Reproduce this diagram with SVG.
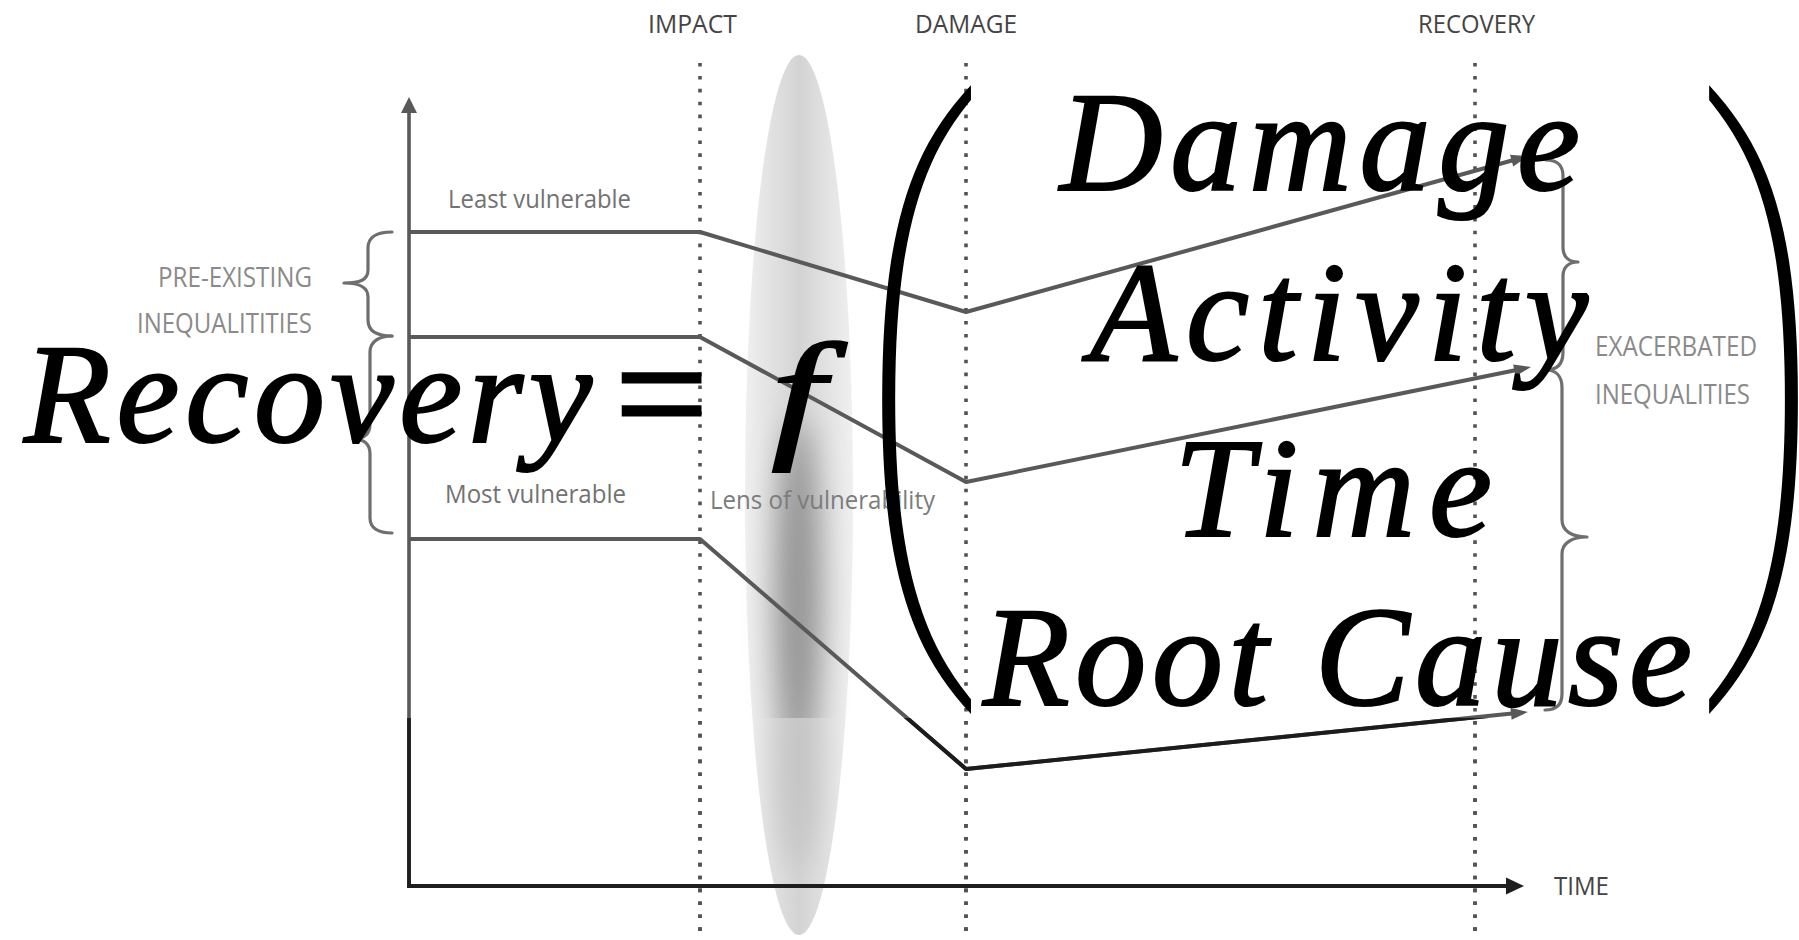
<svg xmlns="http://www.w3.org/2000/svg" width="1799" height="940" viewBox="0 0 1799 940">
<style>
.lbl{font-family:"Open Sans","Liberation Sans",sans-serif}
.hdr{font-size:25px;fill:#444}
.cap{font-size:27px;fill:#8a8a8a}
.vul{font-size:25px;fill:#727272}
.lenst{font-size:26px;fill:#7c7c7c}
.ln{fill:none;stroke:#595959;stroke-width:4;stroke-linejoin:round}
.dk{stroke:#1c1c1c}
.dot{fill:none;stroke:#535353;stroke-width:3.6;stroke-dasharray:3.6 9.3}
.brace{fill:none;stroke:#6e6e6e;stroke-width:3.2;stroke-linecap:round;stroke-linejoin:round}
.math{font-family:"Liberation Serif","Times New Roman",serif;font-style:italic;font-size:142px;fill:#000;stroke:#000;stroke-width:2.2}
.paren{font-family:"Liberation Serif","Times New Roman",serif;font-size:320px;fill:#000}
</style>
<defs>
<linearGradient id="lensH" x1="0" y1="0" x2="1" y2="0">
<stop offset="0" stop-color="#f0f0f0"/><stop offset="0.5" stop-color="#d3d3d3"/><stop offset="1" stop-color="#f0f0f0"/>
</linearGradient>
<filter id="soft" x="-2" y="-1" width="5" height="3"><feGaussianBlur stdDeviation="15"/></filter>
<clipPath id="lensUp"><rect x="700" y="0" width="200" height="718"/></clipPath>
<clipPath id="lensLow"><ellipse cx="799" cy="495" rx="54" ry="440"/></clipPath>
<clipPath id="lower"><rect x="0" y="718" width="1799" height="222"/></clipPath>
<mask id="mL" maskUnits="userSpaceOnUse" x="0" y="0" width="1799" height="940">
<rect width="1799" height="940" fill="#fff"/>
<text class="paren" transform="translate(880,566.4) scale(1.08,2.167)">(</text>
</mask>
<mask id="mR" maskUnits="userSpaceOnUse" x="0" y="0" width="1799" height="940">
<rect width="1799" height="940" fill="#fff"/>
<text class="paren" transform="translate(1685,566.4) scale(1.08,2.167)">)</text>
</mask>
<marker id="arr" markerUnits="userSpaceOnUse" markerWidth="20" markerHeight="16" viewBox="-8 -8 20 16" refX="0" refY="0" orient="auto">
<path d="M11,0 L-6,-6 L-6,6 Z" fill="#595959"/>
</marker>
</defs>
<rect width="1799" height="940" fill="#fff"/>

<g id="lens">
<ellipse cx="799" cy="495" rx="54" ry="440" fill="url(#lensH)"/>
<g clip-path="url(#lensUp)"><ellipse cx="798" cy="595" rx="21" ry="175" fill="#939393" filter="url(#soft)"/></g>
<g clip-path="url(#lensLow)"><g clip-path="url(#lower)"><ellipse cx="798" cy="760" rx="20" ry="110" fill="#c4c4c4" filter="url(#soft)"/></g></g>
</g>

<g id="phase-lines">
<line class="dot" x1="700" y1="63" x2="700" y2="940"/>
<line class="dot" x1="966" y1="63" x2="966" y2="940"/>
<line class="dot" x1="1475" y1="63" x2="1475" y2="940"/>
</g>

<g id="axes">
<line x1="409" y1="888" x2="409" y2="110" stroke="#595959" stroke-width="3.6"/>
<polygon points="409,97 401,113 417,113" fill="#595959"/>
<line x1="407" y1="886" x2="1508" y2="886" stroke="#1e1e1e" stroke-width="4.2"/>
<polygon points="1524,886 1506,877.5 1506,894.5" fill="#1e1e1e"/>
</g>

<g id="connectors">
<path id="least" class="ln" d="M410,232 L700,232 L966,312 L1517.4,159" marker-end="url(#arr)"/>
<path id="middle" class="ln" d="M410,337 L700,337 L966,482 L1520.2,369.2" marker-end="url(#arr)"/>
<path id="most" class="ln" d="M410,539 L700,539 L966,769 L1517,713.1" marker-end="url(#arr)"/>
</g>

<g id="lower-dark" clip-path="url(#lower)">
<line class="dot dk" x1="700" y1="63" x2="700" y2="940"/>
<line class="dot dk" x1="966" y1="63" x2="966" y2="940"/>
<line class="dot dk" x1="1475" y1="63" x2="1475" y2="940"/>
<line x1="409" y1="888" x2="409" y2="110" stroke="#1e1e1e" stroke-width="3.8"/>
<path class="ln dk" d="M410,539 L700,539 L966,769 L1517,713.1"/>
</g>

<g id="braces">
<path class="brace" d="M392,232 C378,232 368,236 368,248 L368,270 C368,280 360,283 344,283 C360,283 368,287 368,297 L368,320 C368,332 378,336 392,336"/>
<path class="brace" d="M392,336 C380,336 370,341 370,352 L370,424 C370,434 364,439 353,439 C364,439 370,444 370,454 L370,518 C370,529 380,533 392,533"/>
<path class="brace" d="M1546,160 C1557,160 1563,165 1563,176 L1563,248 C1563,257 1569,262 1578,262 C1569,262 1563,267 1563,276 L1563,352 C1563,364 1557,370 1546,370"/>
<path class="brace" d="M1546,370 C1556,370 1562,376 1562,388 L1562,520 C1562,531 1572,537 1587,537 C1572,537 1562,543 1562,554 L1562,694 C1562,705 1556,710 1545,710"/>
</g>

<g id="labels" class="lbl">
<text class="hdr" x="648" y="33" textLength="89" lengthAdjust="spacingAndGlyphs">IMPACT</text>
<text class="hdr" x="915" y="33" textLength="102" lengthAdjust="spacingAndGlyphs">DAMAGE</text>
<text class="hdr" x="1418" y="33" textLength="117" lengthAdjust="spacingAndGlyphs">RECOVERY</text>
<text class="vul" x="448" y="208" textLength="183" lengthAdjust="spacingAndGlyphs">Least vulnerable</text>
<text class="vul" x="445" y="503" textLength="181" lengthAdjust="spacingAndGlyphs">Most vulnerable</text>
<text class="lenst" x="710" y="509" textLength="225" lengthAdjust="spacingAndGlyphs">Lens of vulnerability</text>
<text class="cap" x="158" y="287" textLength="154" lengthAdjust="spacingAndGlyphs">PRE-EXISTING</text>
<text class="cap" x="137" y="333" textLength="175" lengthAdjust="spacingAndGlyphs">INEQUALITITIES</text>
<text class="cap" x="1595" y="356" textLength="162" lengthAdjust="spacingAndGlyphs">EXACERBATED</text>
<text class="cap" x="1595" y="404" textLength="155" lengthAdjust="spacingAndGlyphs">INEQUALITIES</text>
<text class="hdr" x="1554" y="895" font-size="28" textLength="55" lengthAdjust="spacingAndGlyphs">TIME</text>
</g>

<g id="formula">
<text class="math" x="24" y="442" textLength="568" lengthAdjust="spacing">Recovery</text>
<text x="615" y="449" font-family="Liberation Serif, serif" font-size="165" fill="#000" stroke="#000" stroke-width="3">=</text>
<text class="math" text-anchor="middle" stroke-width="1.6" transform="translate(798,442) scale(1.35,1)">f</text>
<g mask="url(#mL)"><text class="paren" transform="translate(867,566.4) scale(1.08,2.167)">(</text></g>
<text class="math" x="1060" y="190" textLength="520" lengthAdjust="spacing">Damage</text>
<text class="math" x="1090" y="360" textLength="498" lengthAdjust="spacing">Activity</text>
<text class="math" x="1174" y="536" textLength="318" lengthAdjust="spacing">Time</text>
<text class="math" x="983" y="705" textLength="709" lengthAdjust="spacing">Root Cause</text>
<g mask="url(#mR)"><text class="paren" transform="translate(1698,566.4) scale(1.08,2.167)">)</text></g>
</g>
</svg>
